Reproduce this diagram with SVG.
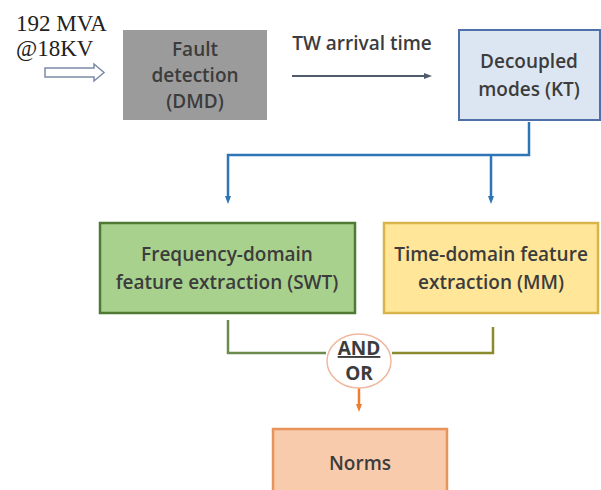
<svg xmlns="http://www.w3.org/2000/svg" width="601" height="490" viewBox="0 0 601 490">
<style>
.t{font-family:"Open Sans","Noto Sans",sans-serif;font-size:19px;font-weight:600;fill:#3c3c3c;text-anchor:middle}
.s{font-family:"Liberation Serif",serif;font-size:23px;fill:#222}
.b{font-weight:bold}
</style>
<defs>
<marker id="ab" markerWidth="8" markerHeight="8" refX="4" refY="4" orient="auto" markerUnits="userSpaceOnUse"><path d="M0,1 L8,4 L0,7 Z" fill="#2e75b6"/></marker>
<marker id="ag" markerWidth="8" markerHeight="8" refX="4" refY="4" orient="auto" markerUnits="userSpaceOnUse"><path d="M0,1 L8,4 L0,7 Z" fill="#505a6a"/></marker>
<marker id="ao" markerWidth="8" markerHeight="8" refX="4" refY="4" orient="auto" markerUnits="userSpaceOnUse"><path d="M0,1 L8,4 L0,7 Z" fill="#ed7d31"/></marker>
</defs>
<rect width="601" height="490" fill="#fff"/>
<g id="source">
<text class="s" x="16" y="31">192 MVA</text>
<text class="s" x="16" y="56">@18KV</text>
<path d="M45,68 L94,68 L94,64 L104,72.5 L94,81 L94,77 L45,77 Z" fill="#fff" stroke="#7a8aa8" stroke-width="1.5"/>
</g>
<g id="connectors" fill="none">
<line x1="292" y1="76" x2="428" y2="76" stroke="#505a6a" stroke-width="2" marker-end="url(#ag)"/>
<text class="t" x="362" y="50" font-weight="normal" font-size="18.5">TW arrival time</text>
<path d="M529,122 V155 H228 V200" stroke="#2e75b6" stroke-width="2.5" marker-end="url(#ab)"/>
<path d="M491,155 V200" stroke="#2e75b6" stroke-width="2.5" marker-end="url(#ab)"/>
<path d="M228,320 V353 H326" stroke="#6b8a4e" stroke-width="2.5"/>
<path d="M493,327 V353 H392" stroke="#8c8a2e" stroke-width="2.5"/>
<path d="M359,388 V408" stroke="#ed7d31" stroke-width="2.5" marker-end="url(#ao)"/>
</g>
<g id="fault">
<rect x="123" y="30" width="144" height="90" fill="#9b9b9b"/>
<text class="t" x="195" y="56">Fault</text>
<text class="t" x="195" y="82">detection</text>
<text class="t" x="195" y="108">(DMD)</text>
</g>
<g id="decoupled">
<rect x="459" y="30" width="141" height="90" fill="#dce6f2" stroke="#4f6fa8" stroke-width="2"/>
<text class="t" x="529" y="68">Decoupled</text>
<text class="t" x="529" y="96">modes (KT)</text>
</g>
<g id="freq">
<rect x="100" y="223" width="255" height="90" fill="#a9d18e" stroke="#4e7a34" stroke-width="2.5"/>
<text class="t" x="227" y="261">Frequency-domain</text>
<text class="t" x="227" y="289">feature extraction (SWT)</text>
</g>
<g id="time">
<rect x="384" y="223" width="214" height="90" fill="#ffe699" stroke="#d8b44a" stroke-width="2.5"/>
<text class="t" x="491" y="261">Time-domain feature</text>
<text class="t" x="491" y="289">extraction (MM)</text>
</g>
<g id="gate">
<ellipse cx="359" cy="361" rx="32" ry="27" fill="#fff" stroke="#f0b8a0" stroke-width="1.5"/>
<text class="t b" x="359" y="355" font-size="14" text-decoration="underline">AND</text>
<text class="t b" x="359" y="380" font-size="14">OR</text>
</g>
<g id="norms">
<rect x="273" y="429" width="174" height="70" fill="#f8cbad" stroke="#e8935a" stroke-width="2.5"/>
<text class="t" x="360" y="470">Norms</text>
</g>
</svg>
